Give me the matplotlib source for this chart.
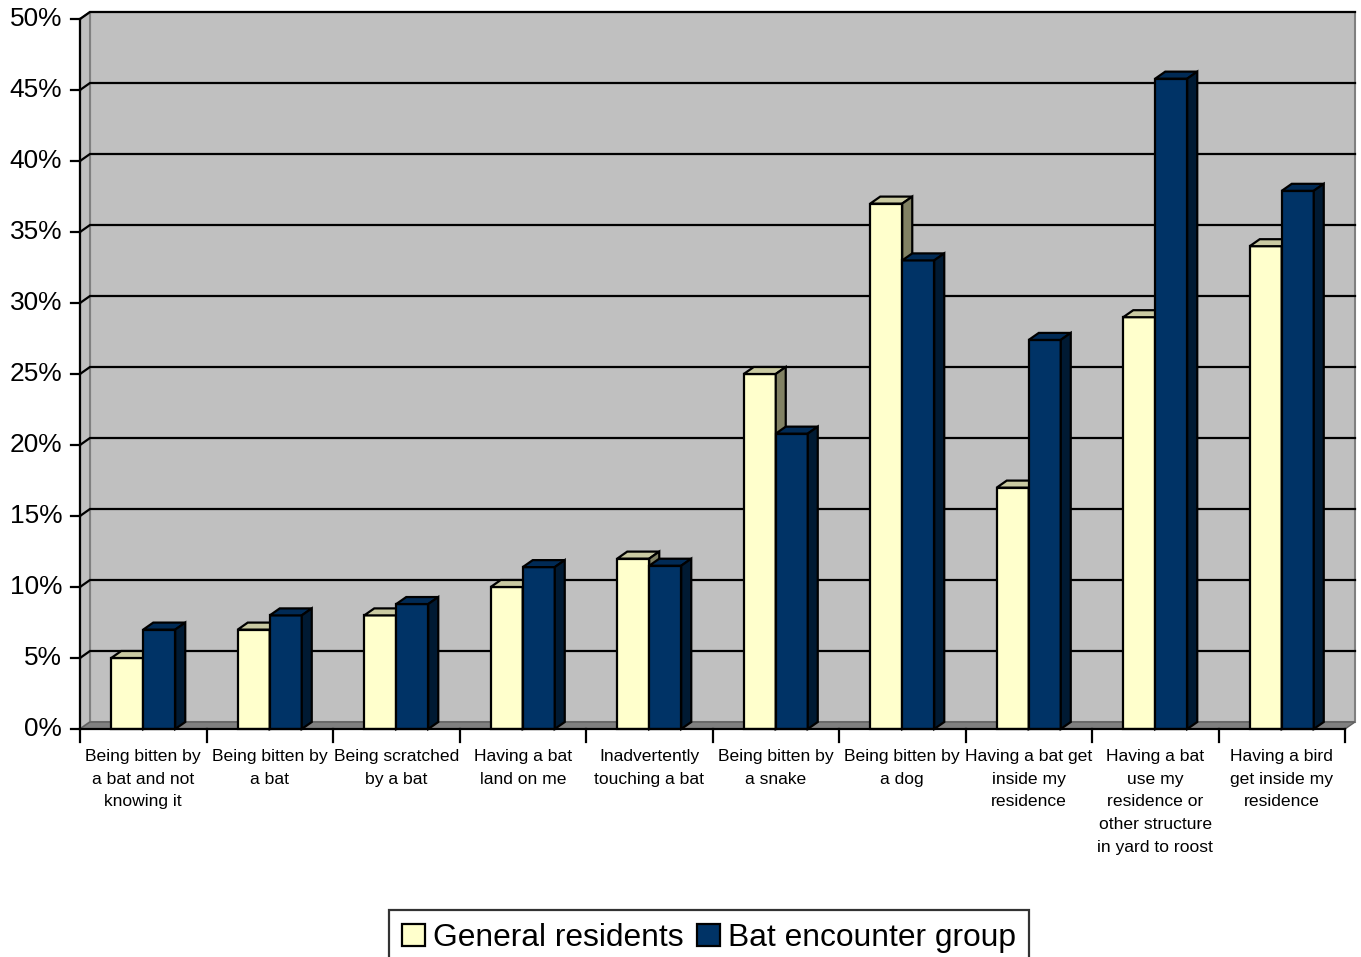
import matplotlib
matplotlib.use("Agg")
import matplotlib.pyplot as plt
from matplotlib.patches import Polygon, Patch

plt.rcParams['font.family'] = ['Liberation Sans', 'DejaVu Sans']

categories = [
    "Being bitten by\na bat and not\nknowing it",
    "Being bitten by\na bat",
    "Being scratched\nby a bat",
    "Having a bat\nland on me",
    "Inadvertently\ntouching a bat",
    "Being bitten by\na snake",
    "Being bitten by\na dog",
    "Having a bat get\ninside my\nresidence",
    "Having a bat\nuse my\nresidence or\nother structure\nin yard to roost",
    "Having a bird\nget inside my\nresidence",
]
general_residents = [5, 7, 8, 10, 12, 25, 37, 17, 29, 34]
bat_encounter = [7, 8, 8.8, 11.4, 11.5, 20.8, 33, 27.4, 45.8, 37.9]
y_ticks = [0, 5, 10, 15, 20, 25, 30, 35, 40, 45, 50]
y_tick_labels = [f"{t}%" for t in y_ticks]
series_names = ["General residents", "Bat encounter group"]

# face colours: front, top, side
gen_colors = ("#FFFFCC", "#CACAA2", "#828264")
bat_colors = ("#003366", "#002A55", "#001A33")
wall_color = "#C0C0C0"
floor_color = "#808080"

W, H = 1361, 957
fig = plt.figure(figsize=(W / 100, H / 100), dpi=100)
x0_px, x1_px, y0_px, y1_px = 80, 1345, 729, 19
ax = fig.add_axes([x0_px / W, 1 - y0_px / H, (x1_px - x0_px) / W, (y0_px - y1_px) / H])
n = len(categories)
ax.set_xlim(0, n)
ax.set_ylim(0, 50)
ax.axis("off")

# depth offset of the 3-D box, in data units
px_x = n / (x1_px - x0_px)
px_y = 50 / (y0_px - y1_px)
dx, dy = 10 * px_x, 7 * px_y

def poly(pts, fc, ec="black", lw=1.6, z=1):
    p = Polygon(pts, closed=True, facecolor=fc, edgecolor=ec, linewidth=lw,
                joinstyle="miter", clip_on=False, zorder=z)
    ax.add_patch(p)

# back wall, side wall, floor
poly([(dx, dy), (n + dx, dy), (n + dx, 50 + dy), (dx, 50 + dy)], wall_color, ec="#808080", lw=1.5, z=0)
poly([(0, 0), (dx, dy), (dx, 50 + dy), (0, 50)], wall_color, ec="#808080", lw=1.5, z=0)
poly([(0, 0), (n, 0), (n + dx, dy), (dx, dy)], floor_color, ec="#606060", lw=1.0, z=0.5)

# gridlines on back and side wall
for t in y_ticks[1:]:
    ax.plot([0, dx, n + dx], [t, t + dy, t + dy], color="black", lw=1.6,
            clip_on=False, zorder=0.8, solid_joinstyle="miter")

# front axes
ax.plot([0, 0], [0, 50], color="black", lw=1.6, clip_on=False, zorder=3)
ax.plot([0, n], [0, 0], color="black", lw=1.6, clip_on=False, zorder=3)
for t, lab in zip(y_ticks, y_tick_labels):
    ax.plot([-9 * px_x, 0], [t, t], color="black", lw=1.6, clip_on=False, zorder=3)
    ax.text(-18 * px_x, t, lab, ha="right", va="center", fontsize=18.9, zorder=3)
for i in range(n + 1):
    ax.plot([i, i], [0, -13 * px_y], color="black", lw=1.6, clip_on=False, zorder=3)

# bars
bw = 0.253
def bar3d(x, v, colors):
    front, top, side = colors
    poly([(x, 0), (x + bw, 0), (x + bw, v), (x, v)], front, z=2)
    poly([(x, v), (x + bw, v), (x + bw + dx, v + dy), (x + dx, v + dy)], top, z=2)
    poly([(x + bw, 0), (x + bw + dx, dy), (x + bw + dx, v + dy), (x + bw, v)], side, z=2)

for i in range(n):
    c = i + 0.5
    bar3d(c - bw, general_residents[i], gen_colors)
    bar3d(c, bat_encounter[i], bat_colors)

# category labels
for i, lab in enumerate(categories):
    ax.text(i + 0.5, -20 * px_y, lab, ha="center", va="top", fontsize=12.6,
            linespacing=1.64, zorder=3)

handles = [Patch(facecolor=gen_colors[0], edgecolor="black", linewidth=1.6),
           Patch(facecolor=bat_colors[0], edgecolor="black", linewidth=1.6)]
leg = fig.legend(handles, series_names, loc="upper center",
                 bbox_to_anchor=(709 / W, 1 - 910 / H), ncol=2, fontsize=22.9,
                 frameon=True, fancybox=False, edgecolor="black",
                 handlelength=0.7, handleheight=0.7, handletextpad=0.25,
                 columnspacing=0.45, borderpad=0.42, borderaxespad=0)
leg.get_frame().set_linewidth(1.6)

fig.savefig("out.png", dpi=100)
